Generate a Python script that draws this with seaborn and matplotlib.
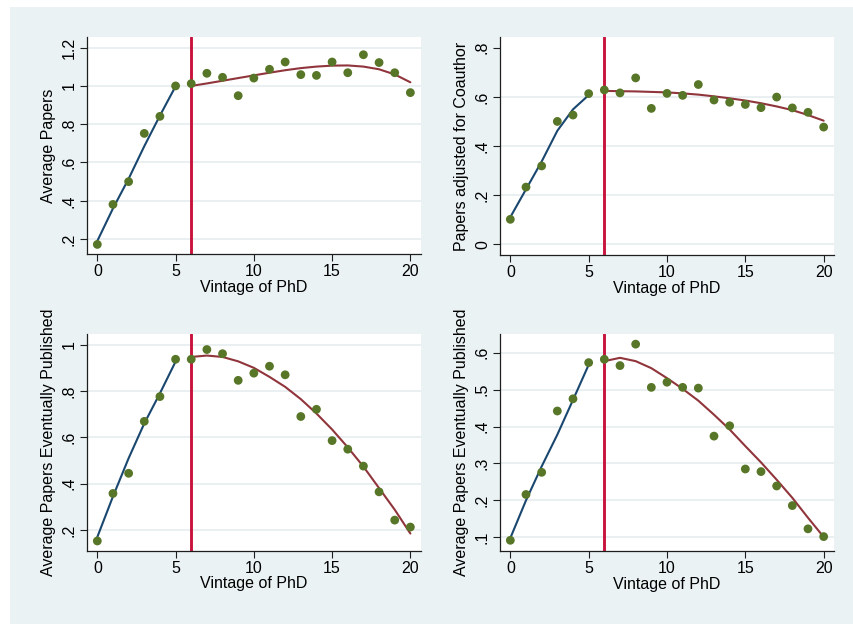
import numpy as np
import pandas as pd
import matplotlib
matplotlib.use("Agg")
import matplotlib.pyplot as plt
from matplotlib.patches import Rectangle
from matplotlib.ticker import FixedLocator, FuncFormatter
import seaborn as sns

# ---------------- data ----------------
vintage = list(range(0, 21))
fit_x_early = [0, 1, 2, 3, 4, 5]
fit_x_late = list(range(6, 21))
cutoff = 6

papers = [0.172, 0.381, 0.500, 0.752, 0.841, 1.000, 1.012, 1.066, 1.045, 0.949, 1.041,
          1.087, 1.125, 1.059, 1.055, 1.125, 1.069, 1.163, 1.122, 1.069, 0.965]
papers_fit_early = [0.19, 0.36, 0.515, 0.685, 0.845, 0.998]
papers_fit_late = [1.000, 1.013, 1.027, 1.041, 1.055, 1.069, 1.082, 1.093, 1.101, 1.106,
                   1.107, 1.101, 1.087, 1.060, 1.019]

coauthor = [0.102, 0.233, 0.319, 0.500, 0.526, 0.613, 0.628, 0.616, 0.677, 0.553, 0.614,
            0.606, 0.650, 0.587, 0.578, 0.569, 0.556, 0.599, 0.555, 0.537, 0.477]
coauthor_fit_early = [0.111, 0.224, 0.337, 0.462, 0.549, 0.607]
coauthor_fit_late = [0.624, 0.623, 0.622, 0.620, 0.618, 0.614, 0.609, 0.602, 0.594, 0.585,
                     0.574, 0.561, 0.546, 0.526, 0.503]

published = [0.153, 0.358, 0.445, 0.669, 0.776, 0.937, 0.937, 0.979, 0.961, 0.846, 0.877,
             0.907, 0.870, 0.690, 0.721, 0.586, 0.549, 0.476, 0.365, 0.243, 0.213]
published_fit_early = [0.17, 0.345, 0.51, 0.66, 0.79, 0.927]
published_fit_late = [0.947, 0.953, 0.947, 0.928, 0.900, 0.861, 0.818, 0.765, 0.703, 0.634,
                      0.557, 0.474, 0.381, 0.288, 0.185]

published_adj = [0.092, 0.216, 0.276, 0.442, 0.475, 0.573, 0.582, 0.565, 0.623, 0.506, 0.520,
                 0.506, 0.504, 0.374, 0.402, 0.285, 0.278, 0.239, 0.186, 0.123, 0.102]
published_adj_fit_early = [0.098, 0.200, 0.292, 0.378, 0.472, 0.567]
published_adj_fit_late = [0.577, 0.586, 0.577, 0.558, 0.531, 0.502, 0.470, 0.432, 0.392, 0.347,
                          0.303, 0.256, 0.207, 0.153, 0.101]

x_ticks = [0, 5, 10, 15, 20]
x_label = "Vintage of PhD"

panels = [
    dict(y=papers, early=papers_fit_early, late=papers_fit_late,
         ylabel="Average Papers", yticks=[0.2, 0.4, 0.6, 0.8, 1.0, 1.2],
         ylim=(0.122, 1.254), hide_top_grid=False),
    dict(y=coauthor, early=coauthor_fit_early, late=coauthor_fit_late,
         ylabel="Papers adjusted for Coauthor", yticks=[0.0, 0.2, 0.4, 0.6, 0.8],
         ylim=(-0.043, 0.842), hide_top_grid=True),
    dict(y=published, early=published_fit_early, late=published_fit_late,
         ylabel="Average Papers Eventually Published", yticks=[0.2, 0.4, 0.6, 0.8, 1.0],
         ylim=(0.111, 1.046), hide_top_grid=False),
    dict(y=published_adj, early=published_adj_fit_early, late=published_adj_fit_late,
         ylabel="Average Papers Eventually Published", yticks=[0.1, 0.2, 0.3, 0.4, 0.5, 0.6],
         ylim=(0.063, 0.6505), hide_top_grid=False),
]

# ---------------- style ----------------
sns.set_theme(style="white")
plt.rcParams["font.family"] = ["Liberation Sans", "DejaVu Sans"]

BG = "#eaf2f3"
GRID = "#e6eef0"
DOT = "#587627"
NAVY = "#1a476f"
MAROON = "#90353b"
VLINE = "#c8143c"
AXC = "#1e1e1e"

W, H = 854, 624
fig = plt.figure(figsize=(W / 100, H / 100), dpi=100)
fig.patch.set_facecolor("white")
fig.patches.append(Rectangle((10 / W, 0), 1 - 10 / W, 1 - 7 / H, transform=fig.transFigure,
                             facecolor=BG, edgecolor="none", zorder=-10))

# axes boxes in pixels: (left, right, top, bottom)
boxes = [(87.3, 420.7, 37.3, 254.0), (500.3, 834.0, 37.3, 255.0),
         (87.3, 420.7, 334.0, 550.7), (500.3, 834.0, 334.0, 551.0)]


def fmt(v, pos=None):
    if abs(v) < 1e-9:
        return "0"
    s = ("%.1f" % v).rstrip("0").rstrip(".")
    if s.startswith("0."):
        s = s[1:]
    return s


for (l, r, t, b), p in zip(boxes, panels):
    ax = fig.add_axes([l / W, 1 - b / H, (r - l) / W, (b - t) / H])
    ax.set_zorder(5)
    ax.set_facecolor("white")
    ax.axvline(cutoff, color=VLINE, lw=2.1, zorder=2)
    sns.lineplot(x=fit_x_early, y=p["early"], ax=ax, color=NAVY, lw=1.5, zorder=3)
    sns.lineplot(x=fit_x_late, y=p["late"], ax=ax, color=MAROON, lw=1.5, zorder=3)
    sns.scatterplot(x=vintage, y=p["y"], ax=ax, color=DOT, s=40, edgecolor="none",
                    linewidth=0, zorder=4)

    ax.set_xlim(-0.64, 20.66)
    ax.set_ylim(*p["ylim"])
    ax.xaxis.set_major_locator(FixedLocator(x_ticks))
    ax.yaxis.set_major_locator(FixedLocator(p["yticks"]))
    ax.yaxis.set_major_formatter(FuncFormatter(fmt))

    ax.grid(axis="y", color=GRID, lw=1.2, zorder=1)
    ax.grid(axis="x", visible=False)
    ax.set_axisbelow(True)
    if p["hide_top_grid"]:
        ax.get_ygridlines()[-1].set_visible(False)

    for side in ["top", "right"]:
        ax.spines[side].set_visible(False)
    for side in ["left", "bottom"]:
        ax.spines[side].set_color(AXC)
        ax.spines[side].set_linewidth(0.9)

    ax.tick_params(axis="both", which="major", direction="out", length=5, width=0.8,
                   color=AXC, labelsize=11.5, labelcolor="black", pad=2.5,
                   left=True, bottom=True)
    ax.tick_params(axis="y", labelrotation=90)
    for lab in ax.get_yticklabels():
        lab.set_va("center")

    ax.set_xlabel(x_label, fontsize=11.5, color="black")
    ax.set_ylabel(p["ylabel"], fontsize=11.5, color="black")
    ax.xaxis.set_label_coords(0.5, -0.118)
    ax.yaxis.set_label_coords(-0.093, 0.5)

fig.savefig("out.png", dpi=100, facecolor=fig.get_facecolor())
